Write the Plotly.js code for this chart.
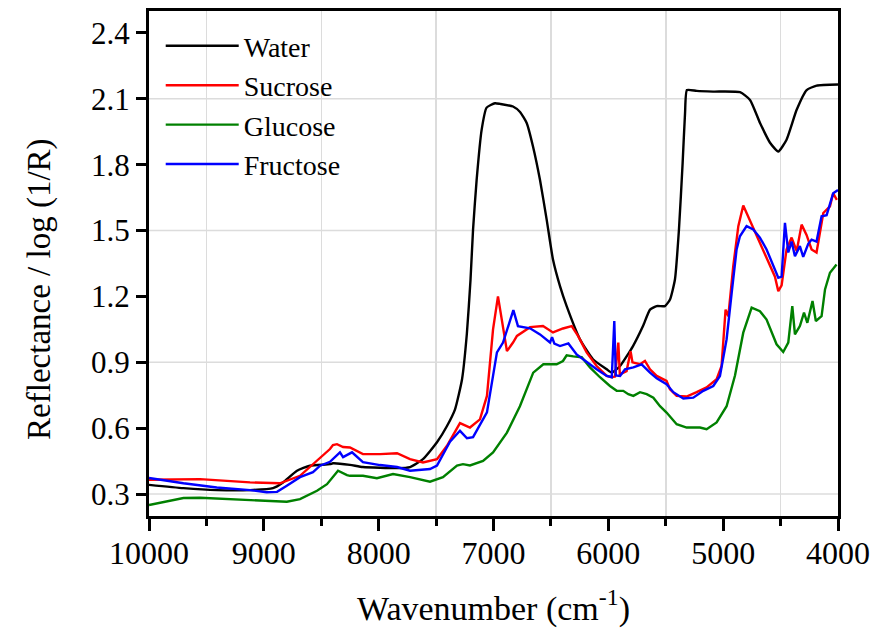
<!DOCTYPE html>
<html>
<head>
<meta charset="utf-8">
<script src="https://cdn.plot.ly/plotly-3.0.1.min.js"></script>
<style>html,body{margin:0;padding:0;background:#fff;}#chart{width:874px;height:634px;}</style>
</head>
<body>
<div id="chart"></div>
<script>
// ---- data ----
const seriesNames = ["Water", "Sucrose", "Glucose", "Fructose"];

const waterWn = [10000, 9700, 9410, 9120, 8920, 8833, 8711, 8598, 8424, 8398, 8250, 8137, 7840, 7727, 7614, 7492, 7405, 7335, 7274, 7232, 7200, 7178, 7147, 7103, 7060, 6987, 6943, 6830, 6769, 6711, 6656, 6595, 6537, 6482, 6421, 6363, 6247, 6134, 6014, 5970, 5898, 5785, 5698, 5637, 5579, 5507, 5463, 5420, 5385, 5353, 5332, 5315, 5230, 5088, 4853, 4766, 4679, 4592, 4520, 4448, 4360, 4273, 4186, 4000];
const waterVal = [0.342, 0.327, 0.318, 0.318, 0.327, 0.353, 0.406, 0.429, 0.436, 0.44, 0.433, 0.423, 0.418, 0.423, 0.459, 0.536, 0.61, 0.686, 0.823, 1.03, 1.277, 1.505, 1.73, 1.96, 2.06, 2.08, 2.077, 2.065, 2.04, 1.99, 1.883, 1.73, 1.55, 1.368, 1.247, 1.156, 1.005, 0.914, 0.868, 0.853, 0.883, 0.974, 1.065, 1.14, 1.156, 1.156, 1.186, 1.277, 1.505, 1.808, 2.035, 2.14, 2.136, 2.133, 2.13, 2.095, 1.99, 1.9, 1.86, 1.914, 2.05, 2.14, 2.16, 2.165];

const sucroseWn = [10000, 9556, 9120, 8860, 8685, 8572, 8424, 8398, 8363, 8310, 8250, 8137, 7988, 7840, 7727, 7614, 7492, 7405, 7292, 7205, 7118, 7057, 7004, 6961, 6926, 6883, 6830, 6796, 6682, 6569, 6482, 6395, 6319, 6264, 6189, 6102, 6014, 5970, 5942, 5913, 5900, 5841, 5806, 5790, 5724, 5681, 5637, 5579, 5493, 5463, 5405, 5318, 5231, 5144, 5057, 5014, 4979, 4955, 4912, 4868, 4825, 4796, 4738, 4680, 4607, 4549, 4520, 4491, 4448, 4404, 4360, 4317, 4274, 4230, 4187, 4157, 4128, 4070, 4042, 4010];
const sucroseVal = [0.365, 0.368, 0.353, 0.349, 0.383, 0.436, 0.505, 0.523, 0.527, 0.514, 0.512, 0.482, 0.482, 0.486, 0.459, 0.444, 0.459, 0.52, 0.623, 0.603, 0.64, 0.747, 1.05, 1.20, 1.095, 0.951, 0.99, 1.02, 1.06, 1.065, 1.036, 1.054, 1.065, 1.02, 0.945, 0.883, 0.838, 0.832, 0.835, 0.99, 0.845, 0.86, 0.95, 0.9, 0.891, 0.906, 0.868, 0.838, 0.815, 0.777, 0.747, 0.744, 0.764, 0.786, 0.823, 0.883, 1.14, 1.11, 1.338, 1.52, 1.614, 1.58, 1.505, 1.445, 1.354, 1.29, 1.224, 1.25, 1.414, 1.468, 1.406, 1.527, 1.48, 1.414, 1.4, 1.49, 1.58, 1.61, 1.67, 1.64];

const glucoseWn = [10000, 9700, 9556, 9265, 8975, 8800, 8685, 8537, 8450, 8354, 8276, 8250, 8137, 8015, 7875, 7727, 7553, 7440, 7318, 7266, 7205, 7091, 7004, 6883, 6770, 6682, 6654, 6566, 6450, 6395, 6363, 6305, 6232, 6160, 6073, 5986, 5927, 5870, 5826, 5782, 5724, 5666, 5608, 5550, 5493, 5405, 5318, 5202, 5144, 5057, 4970, 4897, 4825, 4752, 4680, 4622, 4535, 4477, 4433, 4398, 4375, 4332, 4296, 4267, 4222, 4193, 4143, 4113, 4070, 4013];
const glucoseVal = [0.25, 0.282, 0.283, 0.277, 0.27, 0.265, 0.277, 0.315, 0.345, 0.406, 0.386, 0.383, 0.383, 0.372, 0.391, 0.377, 0.356, 0.377, 0.43, 0.436, 0.43, 0.451, 0.49, 0.58, 0.70, 0.823, 0.853, 0.891, 0.891, 0.906, 0.932, 0.927, 0.923, 0.877, 0.832, 0.792, 0.77, 0.77, 0.755, 0.747, 0.764, 0.755, 0.739, 0.70, 0.671, 0.618, 0.603, 0.603, 0.595, 0.626, 0.70, 0.84, 1.035, 1.149, 1.133, 1.095, 0.982, 0.947, 0.99, 1.156, 1.027, 1.065, 1.126, 1.08, 1.179, 1.088, 1.11, 1.232, 1.308, 1.345];

const fructoseWn = [10000, 9700, 9410, 9120, 8975, 8885, 8800, 8685, 8572, 8510, 8424, 8398, 8337, 8310, 8232, 8137, 7988, 7840, 7727, 7553, 7492, 7379, 7292, 7231, 7178, 7057, 6970, 6917, 6827, 6787, 6682, 6595, 6508, 6490, 6470, 6421, 6348, 6276, 6189, 6102, 6014, 5970, 5948, 5935, 5898, 5855, 5782, 5710, 5637, 5579, 5493, 5434, 5347, 5260, 5173, 5086, 5028, 4970, 4926, 4883, 4854, 4796, 4738, 4680, 4622, 4564, 4520, 4491, 4462, 4433, 4404, 4375, 4332, 4303, 4259, 4230, 4187, 4143, 4099, 4042, 4010, 4000];
const fructoseVal = [0.373, 0.349, 0.33, 0.318, 0.308, 0.31, 0.338, 0.377, 0.40, 0.429, 0.447, 0.459, 0.49, 0.468, 0.49, 0.445, 0.432, 0.423, 0.406, 0.414, 0.43, 0.538, 0.588, 0.554, 0.559, 0.672, 0.945, 0.99, 1.138, 1.065, 1.055, 1.027, 0.99, 1.014, 0.985, 0.974, 0.986, 0.936, 0.9, 0.868, 0.838, 0.832, 1.088, 0.84, 0.838, 0.868, 0.877, 0.891, 0.853, 0.827, 0.80, 0.764, 0.735, 0.739, 0.77, 0.792, 0.838, 1.005, 1.215, 1.414, 1.474, 1.52, 1.505, 1.468, 1.414, 1.338, 1.285, 1.29, 1.535, 1.4, 1.45, 1.383, 1.429, 1.38, 1.44, 1.459, 1.45, 1.565, 1.57, 1.67, 1.68, 1.685];

const gridY = [0.3, 0.9, 1.5, 2.1];
const xTitle = "Wavenumber (cm<sup>-1</sup>)";
const yTitle = "Reflectance / log (1/R)";

// ---- chart ----
const FONT = "Liberation Serif, Times New Roman, serif";
const colors = ["#000000", "#ff0000", "#008000", "#0000ff"];
const xs = [waterWn, sucroseWn, glucoseWn, fructoseWn];
const ys = [waterVal, sucroseVal, glucoseVal, fructoseVal];

const traces = seriesNames.map((name, i) => ({
  type: "scatter",
  mode: "lines",
  name: name,
  x: xs[i],
  y: ys[i],
  line: { color: colors[i], width: 2.4, shape: i === 0 ? "spline" : "linear", smoothing: 0.5 }
}));

const shapes = gridY.map(v => ({
  type: "line", xref: "paper", yref: "y", x0: 0, x1: 1, y0: v, y1: v,
  line: { color: "#dcdcdc", width: 1.5 }, layer: "below"
}));

const layout = {
  width: 874, height: 634,
  margin: { l: 149, r: 36, t: 11, b: 118 },
  paper_bgcolor: "#ffffff",
  plot_bgcolor: "#ffffff",
  font: { family: FONT, color: "#000000", size: 31 },
  showlegend: true,
  legend: {
    x: 0.017, y: 0.98, xanchor: "left", yanchor: "top",
    bgcolor: "rgba(0,0,0,0)", borderwidth: 0,
    font: { family: FONT, size: 28, color: "#000000" },
    itemwidth: 73, tracegroupgap: 0
  },
  xaxis: {
    range: [10000, 4000],
    tickmode: "linear", tick0: 4000, dtick: 1000, tickformat: "d",
    ticks: "outside", ticklen: 12, tickwidth: 3, tickcolor: "#000",
    ticklabelstandoff: -5,
    showline: true, linewidth: 3, linecolor: "#000", mirror: true,
    showgrid: false, zeroline: false,
    tickfont: { family: FONT, size: 32 },
    minor: { dtick: 500, tick0: 4000, ticks: "outside", ticklen: 7, tickwidth: 3, tickcolor: "#000",
             showgrid: true, gridcolor: "#dcdcdc", gridwidth: 1.5 },
    title: { text: xTitle, font: { family: FONT, size: 34 }, standoff: 26 }
  },
  yaxis: {
    range: [0.2, 2.5],
    tickmode: "linear", tick0: 0.3, dtick: 0.3, tickformat: ".1f",
    ticks: "outside", ticklen: 10, tickwidth: 3, tickcolor: "#000",
    showline: true, linewidth: 3, linecolor: "#000", mirror: true,
    showgrid: false, zeroline: false,
    tickfont: { family: FONT, size: 31 }
  },
  annotations: [{
    text: yTitle, textangle: -90, showarrow: false,
    xref: "paper", yref: "paper", x: -0.158, y: 0.448,
    xanchor: "center", yanchor: "middle",
    font: { family: FONT, size: 33, color: "#000000" }
  }],
  shapes: shapes
};

Plotly.newPlot("chart", traces, layout, { displayModeBar: false, staticPlot: true });
</script>
</body>
</html>
